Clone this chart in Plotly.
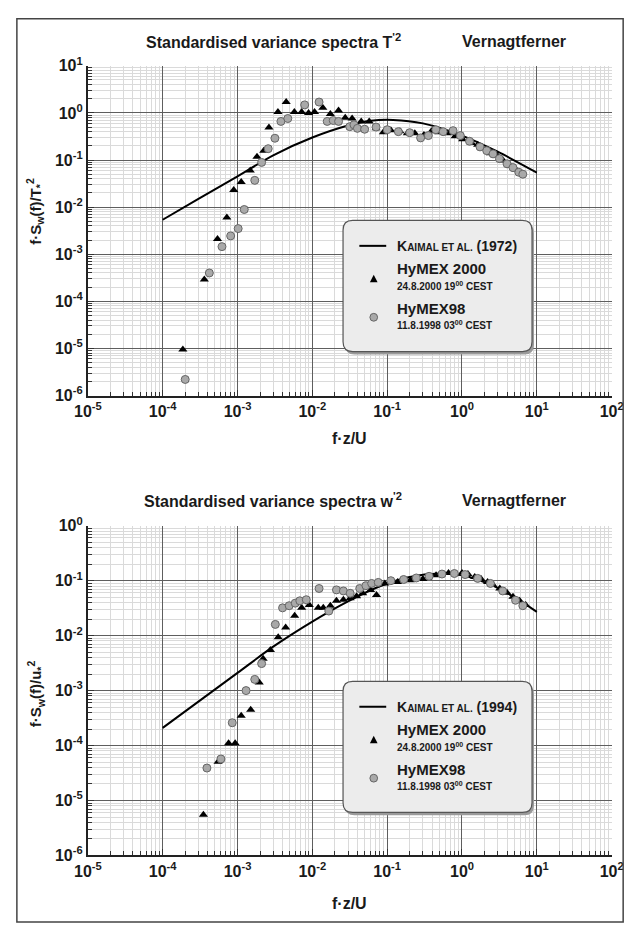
import plotly.graph_objects as go

# ---------------- data ----------------
# Top panel: temperature spectra
k72_x = [1e-4, 3e-4, 1e-3, 3e-3, 1e-2, 3e-2, 6e-2, 1.2e-1, 3e-1, 1.0, 3.0, 10.0]
k72_y = [5.4e-3, 1.5e-2, 4.5e-2, 0.126, 0.30, 0.54, 0.68, 0.71, 0.60, 0.33, 0.15, 0.054]

t_h00_x = [1.86e-4, 3.6e-4, 5.4e-4, 7.2e-4, 8.9e-4, 1.12e-3, 1.48e-3, 1.82e-3, 2.24e-3, 2.63e-3,
           3.47e-3, 4.47e-3, 5.75e-3, 7.2e-3, 8.9e-3, 1.07e-2, 1.38e-2, 1.74e-2, 2.24e-2, 2.75e-2,
           3.4e-2, 4.5e-2, 5.75e-2, 7.1e-2, 8.9e-2, 0.112, 0.148, 0.186, 0.234, 0.31,
           0.39, 0.49, 0.65, 0.81, 1.02, 1.35, 1.62, 1.86, 2.4, 2.9, 3.55, 4.4, 5.25]
t_h00_y = [9.5e-6, 2.9e-4, 2.1e-3, 6.0e-3, 2.3e-2, 3.4e-2, 6.0e-2, 0.117, 0.158, 0.49,
           1.05, 1.7, 1.05, 1.05, 1.0, 1.05, 1.29, 0.95, 1.12, 0.79,
           0.76, 0.66, 0.66, 0.47, 0.39, 0.43, 0.41, 0.37, 0.37, 0.34,
           0.41, 0.39, 0.37, 0.32, 0.275, 0.23, 0.21, 0.18, 0.14, 0.13, 0.098, 0.076, 0.063]

t_h98_x = [2.0e-4, 4.2e-4, 6.2e-4, 8.1e-4, 1.02e-3, 1.23e-3, 1.7e-3, 2.1e-3, 2.57e-3, 3.16e-3,
           3.8e-3, 4.7e-3, 7.9e-3, 1.23e-2, 1.58e-2, 1.9e-2, 2.24e-2, 3.16e-2, 3.6e-2, 4.0e-2,
           5.0e-2, 7.1e-2, 0.1, 0.141, 0.2, 0.28, 0.355, 0.447, 0.56, 0.76,
           0.95, 1.26, 1.74, 2.14, 2.6, 3.16, 4.0, 4.8, 5.75, 6.5]
t_h98_y = [2.2e-6, 4.0e-4, 1.45e-3, 2.45e-3, 3.5e-3, 8.9e-3, 3.7e-2, 8.9e-2, 0.174, 0.29,
           0.66, 0.76, 1.48, 1.7, 0.66, 0.69, 0.66, 0.51, 0.56, 0.47,
           0.45, 0.50, 0.44, 0.40, 0.38, 0.295, 0.33, 0.44, 0.40, 0.42,
           0.33, 0.25, 0.19, 0.158, 0.135, 0.107, 0.083, 0.069, 0.055, 0.05]

# Bottom panel: vertical wind spectra
k94_x = [1e-4, 1e-3, 3e-3, 1e-2, 3e-2, 8e-2, 2e-1, 5e-1, 1.0, 2.5, 5.0, 10.0]
k94_y = [2.1e-4, 2.1e-3, 6.3e-3, 1.8e-2, 4.2e-2, 7.9e-2, 0.117, 0.135, 0.126, 0.083, 0.050, 0.027]

w_h00_x = [3.5e-4, 5.5e-4, 7.6e-4, 9.3e-4, 1.12e-3, 1.5e-3, 1.95e-3, 2.2e-3, 2.75e-3, 3.5e-3,
           4.4e-3, 5.8e-3, 7.2e-3, 9.1e-3, 1.2e-2, 1.4e-2, 1.74e-2, 2.1e-2, 2.6e-2, 3.2e-2,
           3.9e-2, 4.7e-2, 6.0e-2, 7.2e-2, 9.3e-2, 0.138, 0.204, 0.30, 0.45, 0.66,
           1.0, 1.2, 1.48, 1.8, 2.2, 2.6, 3.2, 4.0, 4.8, 5.9, 7.1]
w_h00_y = [5.5e-6, 5.1e-5, 1.1e-4, 1.1e-4, 3.5e-4, 4.5e-4, 1.4e-3, 3.8e-3, 5.5e-3, 9.3e-3,
           1.4e-2, 2.3e-2, 3.2e-2, 3.6e-2, 3.2e-2, 3.2e-2, 3.5e-2, 4.3e-2, 4.5e-2, 4.8e-2,
           5.2e-2, 5.9e-2, 6.8e-2, 5.5e-2, 8.9e-2, 0.095, 0.102, 0.107, 0.126, 0.138,
           0.138, 0.132, 0.117, 0.107, 0.095, 0.083, 0.072, 0.060, 0.051, 0.043, 0.036]

w_h98_x = [3.9e-4, 6.0e-4, 8.5e-4, 1.3e-3, 1.7e-3, 2.1e-3, 3.2e-3, 4.0e-3, 4.9e-3, 5.9e-3,
           6.8e-3, 8.3e-3, 1.23e-2, 1.66e-2, 2.1e-2, 2.6e-2, 3.2e-2, 4.3e-2, 5.2e-2, 6.2e-2,
           7.6e-2, 0.112, 0.166, 0.245, 0.363, 0.54, 0.79, 1.1, 1.62, 2.4,
           3.5, 5.2, 6.5]
w_h98_y = [3.9e-5, 5.7e-5, 2.6e-4, 1.0e-3, 1.6e-3, 3.1e-3, 1.6e-2, 3.2e-2, 3.5e-2, 3.9e-2,
           4.3e-2, 4.5e-2, 7.2e-2, 2.8e-2, 6.8e-2, 6.5e-2, 5.9e-2, 7.2e-2, 8.1e-2, 8.9e-2,
           9.3e-2, 0.10, 0.105, 0.112, 0.12, 0.132, 0.135, 0.129, 0.11, 0.089,
           0.065, 0.044, 0.035]

x_tickvals = [1e-5, 1e-4, 1e-3, 1e-2, 1e-1, 1e0, 1e1, 1e2]
x_ticktext = ["10<sup>-5</sup>", "10<sup>-4</sup>", "10<sup>-3</sup>", "10<sup>-2</sup>",
              "10<sup>-1</sup>", "10<sup>0</sup>", "10<sup>1</sup>", "10<sup>2</sup>"]
yt_tickvals = [1e-6, 1e-5, 1e-4, 1e-3, 1e-2, 1e-1, 1e0, 1e1]
yt_ticktext = ["10<sup>-6</sup>", "10<sup>-5</sup>", "10<sup>-4</sup>", "10<sup>-3</sup>",
               "10<sup>-2</sup>", "10<sup>-1</sup>", "10<sup>0</sup>", "10<sup>1</sup>"]
yb_tickvals = yt_tickvals[:-1]
yb_ticktext = yt_ticktext[:-1]

# ---------------- layout helpers ----------------
W, H = 639, 932
FONT = "Liberation Sans Narrow, Arial Narrow, Liberation Sans, Arial, sans-serif"


def PX(x):
    return x / W


def PY(y):
    return 1 - y / H


fig = go.Figure()

line_style = dict(color="black", width=2, shape="spline", smoothing=0.8)
tri_style = dict(symbol="triangle-up", size=8, color="black", line=dict(width=0))
circ_style = dict(symbol="circle", size=8, color="#a9a9a9", line=dict(color="#666666", width=1))

fig.add_trace(go.Scatter(x=k72_x, y=k72_y, mode="lines", line=line_style, xaxis="x", yaxis="y"))
fig.add_trace(go.Scatter(x=t_h00_x, y=t_h00_y, mode="markers", marker=tri_style, xaxis="x", yaxis="y"))
fig.add_trace(go.Scatter(x=t_h98_x, y=t_h98_y, mode="markers", marker=circ_style, xaxis="x", yaxis="y"))

fig.add_trace(go.Scatter(x=k94_x, y=k94_y, mode="lines", line=line_style, xaxis="x2", yaxis="y2"))
fig.add_trace(go.Scatter(x=w_h00_x, y=w_h00_y, mode="markers", marker=tri_style, xaxis="x2", yaxis="y2"))
fig.add_trace(go.Scatter(x=w_h98_x, y=w_h98_y, mode="markers", marker=circ_style, xaxis="x2", yaxis="y2"))

xdom = [PX(77), PX(623)]
top_dom = [PY(393), PY(56)]
bot_dom = [PY(863), PY(526)]

tickfont = dict(family=FONT, size=16, color="#1a1a1a", weight="bold")
minor = dict(showgrid=True, gridcolor="#dadada", gridwidth=0.6, ticks="inside", ticklen=4,
             tickcolor="#333333", dtick="D1")


def xaxis_cfg(anchor):
    return dict(type="log", range=[-5, 2], domain=xdom, anchor=anchor,
                tickvals=x_tickvals, ticktext=x_ticktext, tickfont=tickfont,
                showgrid=True, gridcolor="#5e5e5e", gridwidth=1.4,
                minor=minor, ticks="inside", ticklen=6, tickcolor="#333333",
                showline=True, linecolor="#222222", linewidth=2, zeroline=False)


def yaxis_cfg(anchor, dom, rng, tv, tt):
    return dict(type="log", range=rng, domain=dom, anchor=anchor,
                tickvals=tv, ticktext=tt, tickfont=tickfont,
                showgrid=True, gridcolor="#5e5e5e", gridwidth=1.4,
                minor=minor, ticks="inside", ticklen=6, tickcolor="#333333",
                showline=True, linecolor="#222222", linewidth=2, zeroline=False)


fig.update_layout(
    width=W, height=H, margin=dict(l=0, r=0, t=0, b=0),
    paper_bgcolor="white", plot_bgcolor="white", showlegend=False,
    xaxis=xaxis_cfg("y"),
    yaxis=yaxis_cfg("x", top_dom, [-6, 1], yt_tickvals, yt_ticktext),
    xaxis2=xaxis_cfg("y2"),
    yaxis2=yaxis_cfg("x2", bot_dom, [-6, 0], yb_tickvals, yb_ticktext),
)

shapes = []
annots = []

# outer frame
shapes.append(dict(type="rect", xref="paper", yref="paper", x0=PX(3), x1=PX(635), y0=PY(8), y1=PY(931),
                   line=dict(color="#444444", width=1.5), fillcolor="rgba(0,0,0,0)", layer="above"))


def rrect_path(x0, y0, x1, y1, r):
    rx, ry = r / W, r / H
    X0, X1, Y0, Y1 = PX(x0), PX(x1), PY(y0), PY(y1)  # Y0 top, Y1 bottom (paper)
    return (f"M {X0+rx},{Y0} L {X1-rx},{Y0} Q {X1},{Y0} {X1},{Y0-ry} "
            f"L {X1},{Y1+ry} Q {X1},{Y1} {X1-rx},{Y1} L {X0+rx},{Y1} "
            f"Q {X0},{Y1} {X0},{Y1+ry} L {X0},{Y0-ry} Q {X0},{Y0} {X0+rx},{Y0} Z")


def tri_path(cx, cy, s):
    return (f"M {PX(cx)},{PY(cy - s*0.55)} L {PX(cx - s/2)},{PY(cy + s*0.4)} "
            f"L {PX(cx + s/2)},{PY(cy + s*0.4)} Z")


def txt(x, y, s, size, anchor="left", bold=True, color="#1a1a1a", angle=0):
    annots.append(dict(x=PX(x), y=PY(y), xref="paper", yref="paper", text=s, showarrow=False,
                       xanchor=anchor, yanchor="middle", textangle=angle,
                       font=dict(family=FONT, size=size, color=color,
                                 weight="bold" if bold else "normal")))


def legend(top, year):
    bx0, bx1, by0, by1 = 343, 540, top, top + 134
    shapes.append(dict(type="path", xref="paper", yref="paper", path=rrect_path(bx0 + 2, by0 + 3, bx1 + 2, by1 + 3, 10),
                       fillcolor="#9a9a9a", line=dict(width=0), layer="above"))
    shapes.append(dict(type="path", xref="paper", yref="paper", path=rrect_path(bx0, by0, bx1, by1, 10),
                       fillcolor="#ececec", line=dict(color="#555555", width=1.2), layer="above"))
    ly = top + 26
    shapes.append(dict(type="line", xref="paper", yref="paper", x0=PX(360), x1=PX(388), y0=PY(ly), y1=PY(ly),
                       line=dict(color="black", width=2), layer="above"))
    txt(397, ly, f"K<span style='font-size:10px'>AIMAL ET AL.</span> ({year})", 14)
    shapes.append(dict(type="path", xref="paper", yref="paper", path=tri_path(375, top + 60, 8),
                       fillcolor="black", line=dict(width=0), layer="above"))
    txt(397, top + 49, "HyMEX 2000", 15)
    txt(397, top + 67, "24.8.2000 19<sup>00</sup> CEST", 10)
    shapes.append(dict(type="circle", xref="paper", yref="paper",
                       x0=PX(371), x1=PX(379), y0=PY(top + 103), y1=PY(top + 95),
                       fillcolor="#a9a9a9", line=dict(color="#666666", width=1), layer="above"))
    txt(397, top + 90, "HyMEX98", 15)
    txt(397, top + 107, "11.8.1998 03<sup>00</sup> CEST", 10)


legend(214, "1972")
legend(685, "1994")

# titles
txt(270, 31, "Standardised variance spectra T<sup>'2</sup>", 16, anchor="center")
txt(521, 31, "Vernagtferner", 16, anchor="center")
txt(270, 500, "Standardised variance spectra w<sup>'2</sup>", 16, anchor="center")
txt(521, 500, "Vernagtferner", 16, anchor="center")

# axis titles
txt(350, 437, "f·z/U", 16, anchor="center")
txt(350, 912, "f·z/U", 16, anchor="center")
txt(22, 205, "f·S<sub>w</sub>(f)/T<sub>*</sub><sup>2</sup>", 15, anchor="center", angle=-90)
txt(22, 698, "f·S<sub>w</sub>(f)/u<sub>*</sub><sup>2</sup>", 15, anchor="center", angle=-90)

fig.update_layout(shapes=shapes, annotations=annots)
fig.write_html("out.html")
